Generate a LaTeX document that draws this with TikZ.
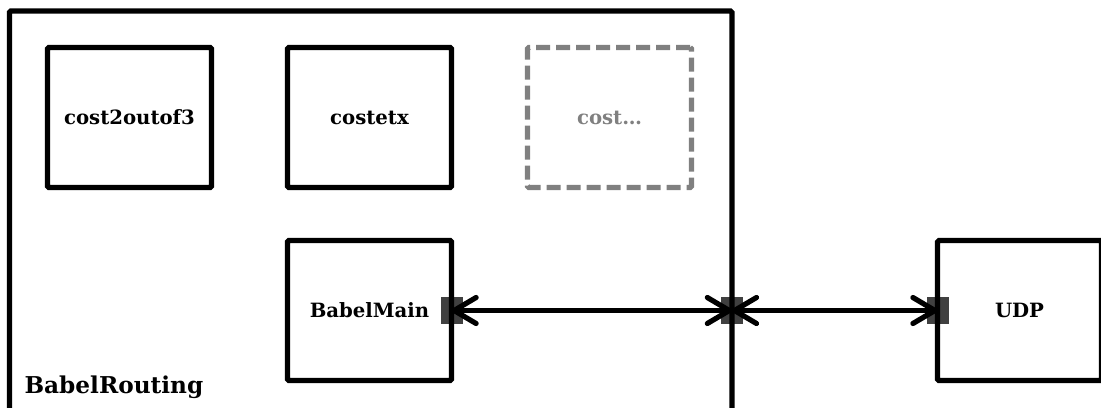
\documentclass[tikz,border=0pt]{standalone}
\usepackage{fontspec}
\setmainfont{DejaVu Serif}
\usetikzlibrary{arrows.meta, positioning, backgrounds}

\begin{document}
\begin{tikzpicture}[
    x=0.25mm, y=-0.25mm,
    node distance={19mm},
    line width=1.3mm,
    module/.style = {
        draw,
        rounded corners=1pt,
        outer sep=0pt,
        minimum width=41mm,
        minimum height=35mm,
        font=\bfseries\fontsize{14}{16}\selectfont
    },
    pending/.style = {
        module,
        draw=gray,
        text=gray,
        dash pattern=on 3.5mm off 1.5mm
    },
    port/.style = {
        fill=black!75,
        minimum width=5.5mm,
        minimum height=6.75mm,
        inner sep=0pt
    },
    link/.style={
        {Straight Barb[round,length=5.5mm,width=6.5mm]}-{Straight Barb[round,length=5.5mm,width=6.5mm]}
    }
]
  \useasboundingbox (0,0) rectangle (1101,407);
  \clip (0,0) rectangle (1101,407);

  % the routing module and its sub-modules
  \node[draw, rounded corners=1pt, outer sep=0pt, inner sep=0pt,
        minimum width=180.6mm, minimum height=120mm, anchor=north west] (routing) at (9.5,11) {};
  \node[font=\bfseries\fontsize{16.5}{20}\selectfont, anchor=base west, inner sep=0pt] (routinglabel) at (22,393) {BabelRouting};

  \node[module] (cost2) at (129.5,117.5) {cost2outof3};
  \node[module] (costetx) [right=of cost2] {costetx};
  \node[pending] (costmore) [right=of costetx] {cost…};
  \node[module] (babelmain) [below=13.25mm of costetx] {BabelMain};
  \node[module] (udp) [right=121.5mm of babelmain] {UDP};

  % gates
  \begin{scope}[on background layer]
    \node[port] (mainport) at (babelmain.east) {};
    \node[port] (edgeport) at (babelmain.east -| routing.east) {};
    \node[port] (udpport) at (udp.west) {};
  \end{scope}

  \draw[link] (babelmain.east) -- (edgeport.center);
  \draw[link] (edgeport.center) -- (udp.west);
\end{tikzpicture}
\end{document}
